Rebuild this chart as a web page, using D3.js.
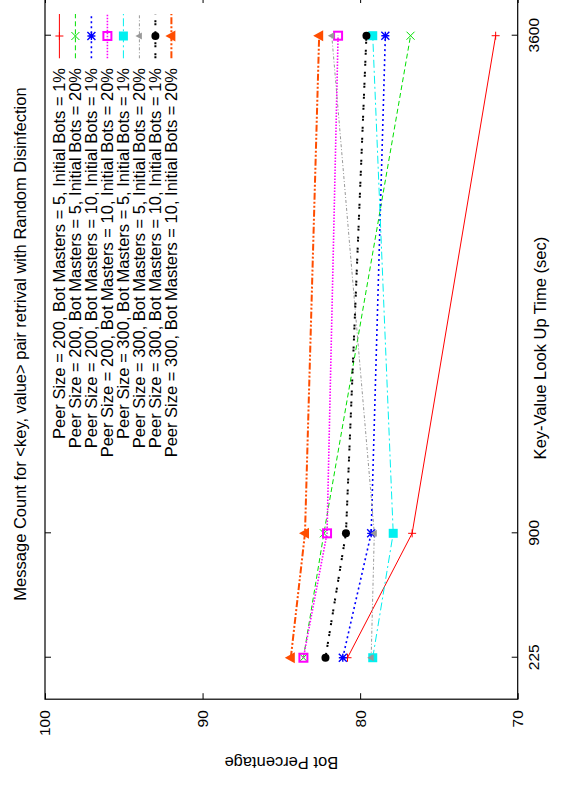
<!DOCTYPE html>
<html>
<head>
<meta charset="utf-8">
<script src="https://cdn.jsdelivr.net/npm/d3@7"></script>
<style>
  body { margin: 0; background: #fff; }
  text { font-family: "Liberation Sans", Arial, sans-serif; fill: #000; }
</style>
</head>
<body>
<div id="chart"></div>
<script>
// data
const lookupTimes = [225, 900, 3600];
const timeTicks = [225, 900, 3600];
const pctTicks = [70, 80, 90, 100];

const seriesNames = [
  'Peer Size = 200, Bot Masters = 5, Initial Bots = 1%',
  'Peer Size = 200, Bot Masters = 5, Initial Bots = 20%',
  'Peer Size = 200, Bot Masters = 10, Initial Bots = 1%',
  'Peer Size = 200, Bot Masters = 10, Initial Bots = 20%',
  'Peer Size = 300, Bot Masters = 5, Initial Bots = 1%',
  'Peer Size = 300, Bot Masters = 5, Initial Bots = 20%',
  'Peer Size = 300, Bot Masters = 10, Initial Bots = 1%',
  'Peer Size = 300, Bot Masters = 10, Initial Bots = 20%'
];
const p200m5b1 = [80.8, 76.7, 71.4];
const p200m5b20 = [83.6, 82.3, 76.8];
const p200m10b1 = [81.1, 79.3, 78.4];
const p200m10b20 = [83.6, 82.1, 81.4];
const p300m5b1 = [79.2, 77.9, 79.2];
const p300m5b20 = [79.3, 79.1, 81.8];
const p300m10b1 = [82.2, 80.9, 79.6];
const p300m10b20 = [84.4, 83.5, 82.6];

const titleText = 'Message Count for <key, value> pair retrival with Random Disinfection';

// styles (gnuplot-like line types)
const styles = [
  {color: '#ff0000', dash: null, width: 1, mark: 'plus'},
  {color: '#00e000', dash: '5,3', width: 1, mark: 'cross'},
  {color: '#0000ff', dash: '2,3', width: 1.6, mark: 'star'},
  {color: '#ff00ff', dash: '1.5,1.5', width: 1.6, mark: 'box'},
  {color: '#00f0f0', dash: '8,3,2,3', width: 1, mark: 'fbox'},
  {color: '#999999', dash: '3,2,1,2', width: 1, mark: 'tri'},
  {color: '#000000', dash: '2,1,2,6', width: 2, mark: 'dot'},
  {color: '#ff4d00', dash: '7,2,2,2,2,2', width: 2, mark: 'ftri'}
];
const seriesValues = [p200m5b1, p200m5b20, p200m10b1, p200m10b20, p300m5b1, p300m5b20, p300m10b1, p300m10b20];
const series = seriesNames.map((name, i) => ({
  name: name,
  style: styles[i],
  points: lookupTimes.map((t, j) => ({t: t, v: seriesValues[i][j]}))
}));

const W = 565, H = 788;
const labelSize = 16.5, tickSize = 15.5;
// chart is drawn landscape (788 x 565) then turned -90deg
const svg = d3.select('#chart').append('svg')
  .attr('width', W).attr('height', H);
const g = svg.append('g')
  .attr('transform', `translate(0,${H}) rotate(-90)`);

const x = d3.scaleLinear().domain([0, 3810]).range([88.8, 791]);
const y = d3.scaleLinear().domain([70, 100]).range([517.7, 45]);

// axes, ticks inward and mirrored
const axB = g.append('g').attr('transform', `translate(0,${y(70)})`)
  .call(d3.axisBottom(x).tickValues(timeTicks).tickFormat(d3.format('d'))
    .tickSizeInner(-6).tickSizeOuter(0).tickPadding(10));
const axT = g.append('g').attr('transform', `translate(0,${y(100)})`)
  .call(d3.axisTop(x).tickValues(timeTicks).tickSizeInner(-6).tickSizeOuter(0).tickFormat(''));
const axL = g.append('g').attr('transform', `translate(${x(0)},0)`)
  .call(d3.axisLeft(y).tickValues(pctTicks).tickSizeInner(-6).tickSizeOuter(0).tickPadding(11));
const axR = g.append('g').attr('transform', `translate(${x(3810)},0)`)
  .call(d3.axisRight(y).tickValues(pctTicks).tickSizeInner(-6).tickSizeOuter(0).tickFormat(''));

[axB, axT, axL, axR].forEach(a => {
  a.select('.domain').remove();
  a.selectAll('line').attr('stroke', '#000');
  a.selectAll('text').attr('font-size', tickSize).attr('font-family', '"Liberation Sans", Arial, sans-serif');
});

g.append('rect')
  .attr('x', x(0)).attr('y', y(100))
  .attr('width', x(3810) - x(0)).attr('height', y(70) - y(100))
  .attr('fill', 'none').attr('stroke', '#000').attr('stroke-width', 1.2);

// markers
function marker(sel, type, color, cx, cy) {
  const s = 4;
  if (type === 'plus') {
    sel.append('path').attr('d', `M${cx - s},${cy}H${cx + s}M${cx},${cy - s}V${cy + s}`)
      .attr('stroke', color).attr('fill', 'none');
  } else if (type === 'cross') {
    sel.append('path').attr('d', `M${cx - s},${cy - s}L${cx + s},${cy + s}M${cx - s},${cy + s}L${cx + s},${cy - s}`)
      .attr('stroke', color).attr('fill', 'none');
  } else if (type === 'star') {
    sel.append('path').attr('d', `M${cx - s},${cy}H${cx + s}M${cx},${cy - s}V${cy + s}M${cx - s},${cy - s}L${cx + s},${cy + s}M${cx - s},${cy + s}L${cx + s},${cy - s}`)
      .attr('stroke', color).attr('stroke-width', 1.4).attr('fill', 'none');
  } else if (type === 'box') {
    sel.append('rect').attr('x', cx - 4).attr('y', cy - 4).attr('width', 8).attr('height', 8)
      .attr('stroke', color).attr('stroke-width', 2).attr('fill', 'none');
  } else if (type === 'fbox') {
    sel.append('rect').attr('x', cx - 4.5).attr('y', cy - 4.5).attr('width', 9).attr('height', 9)
      .attr('fill', color);
  } else if (type === 'tri') {
    sel.append('path').attr('d', `M${cx},${cy - 4}L${cx + 3.5},${cy + 2.5}L${cx - 3.5},${cy + 2.5}Z`)
      .attr('fill', color);
  } else if (type === 'dot') {
    sel.append('circle').attr('cx', cx).attr('cy', cy).attr('r', 4).attr('fill', color);
  } else if (type === 'ftri') {
    sel.append('path').attr('d', `M${cx},${cy - 6}L${cx + 5.5},${cy + 4}L${cx - 5.5},${cy + 4}Z`)
      .attr('fill', color);
  }
}

const line = d3.line().x(d => x(d.t)).y(d => y(d.v));

series.forEach(s => {
  const gs = g.append('g');
  gs.append('path')
    .attr('d', line(s.points))
    .attr('fill', 'none')
    .attr('stroke', s.style.color)
    .attr('stroke-width', s.style.width)
    .attr('stroke-dasharray', s.style.dash);
  s.points.forEach(p => marker(gs, s.style.mark, s.style.color, x(p.t), y(p.v)));
});

// legend (top right, no box)
const legend = g.append('g');
series.forEach((s, i) => {
  const ly = 59.4 + i * 16;
  legend.append('text')
    .attr('x', 720).attr('y', ly).attr('dy', '0.35em')
    .attr('text-anchor', 'end').attr('font-size', labelSize)
    .text(s.name);
  legend.append('line')
    .attr('x1', 729.7).attr('x2', 774).attr('y1', ly).attr('y2', ly)
    .attr('stroke', s.style.color)
    .attr('stroke-width', s.style.width)
    .attr('stroke-dasharray', s.style.dash);
  marker(legend, s.style.mark, s.style.color, 752, ly);
});

// titles
g.append('text')
  .attr('x', 444).attr('y', 20).attr('dy', '0.35em')
  .attr('text-anchor', 'middle').attr('font-size', labelSize)
  .text(titleText);
g.append('text')
  .attr('x', (x(0) + x(3810)) / 2).attr('y', 540).attr('dy', '0.35em')
  .attr('text-anchor', 'middle').attr('font-size', labelSize)
  .text('Key-Value Look Up Time (sec)');
g.append('text')
  .attr('transform', `translate(25,${(y(70) + y(100)) / 2}) rotate(-90)`)
  .attr('dy', '0.35em')
  .attr('text-anchor', 'middle').attr('font-size', labelSize)
  .text('Bot Percentage');
</script>
</body>
</html>
